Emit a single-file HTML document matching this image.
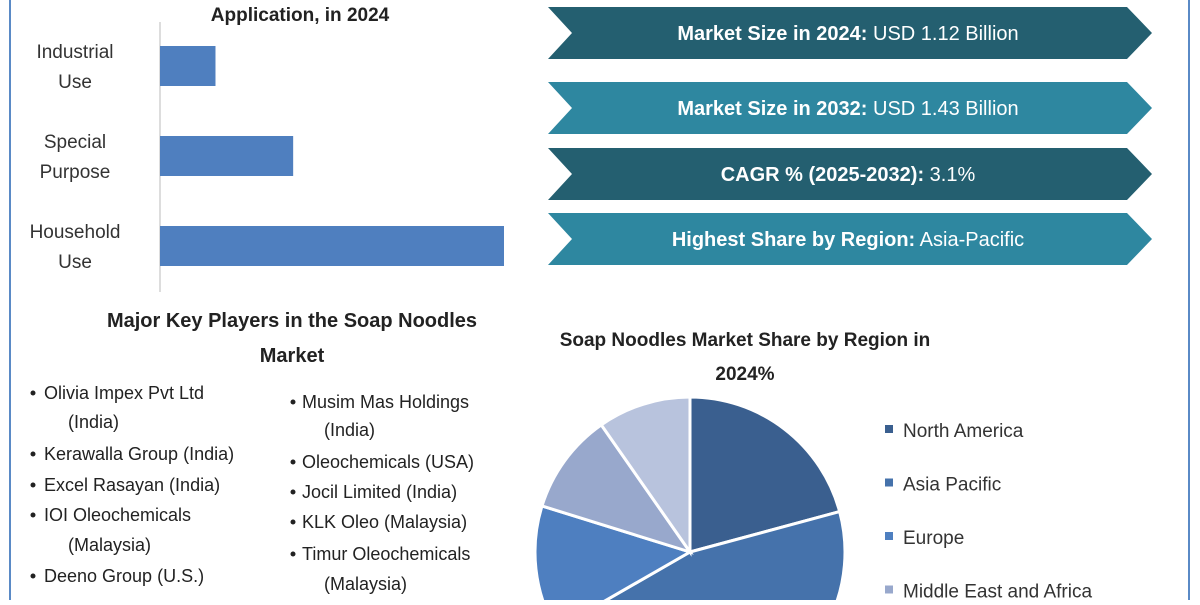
<!DOCTYPE html>
<html><head><meta charset="utf-8"><style>
body{margin:0;width:1200px;height:600px;background:#fff;overflow:hidden;font-family:"Liberation Sans",sans-serif}
svg text{font-family:"Liberation Sans",sans-serif}
</style></head><body>
<svg width="1200" height="600" viewBox="0 0 1200 600">
<line x1="10" y1="0" x2="10" y2="600" stroke="#5a8ac6" stroke-width="2"/>
<line x1="1189" y1="0" x2="1189" y2="600" stroke="#5a8ac6" stroke-width="2"/>
<text x="300" y="21" text-anchor="middle" font-size="19" font-weight="bold" fill="#222">Application, in 2024</text>
<g id="bars"></g>
<g id="arrows"></g>
<text x="292" y="327" text-anchor="middle" font-size="20" font-weight="bold" fill="#222">Major Key Players in the Soap Noodles</text>
<text x="292" y="362" text-anchor="middle" font-size="20" font-weight="bold" fill="#222">Market</text>
<g id="players" font-size="18" fill="#222"></g>
<text x="745" y="346" text-anchor="middle" font-size="19" font-weight="bold" fill="#222">Soap Noodles Market Share by Region in</text>
<text x="745" y="380" text-anchor="middle" font-size="19" font-weight="bold" fill="#222">2024%</text>
<g id="pie"></g>
<g id="legend"></g>
</svg>
<script>
const NS="http://www.w3.org/2000/svg";
function mk(t,a,p){const e=document.createElementNS(NS,t);for(const k in a)e.setAttribute(k,a[k]);p.appendChild(e);return e;}
// Bar chart data
const barCategories=[["Industrial","Use"],["Special","Purpose"],["Household","Use"]];
const barValues=[10,24,62];
const barMax=62;
const bx0=160,bx1=504,by0=22,band=90;
const xs=v=>bx0+(v-0)/barMax*(bx1-bx0);
const bars=document.getElementById('bars');
const ax=mk('line',{x1:bx0,y1:by0,x2:bx0,y2:by0+band*3,stroke:'#bbb'},bars);


barValues.forEach((v,i)=>{
  const r=mk('rect',{x:bx0,y:by0+band*i+24,width:xs(v)-bx0,height:40,fill:'#4f7fbf'},bars);
  
  
  barCategories[i].forEach((l,j)=>{
    const t=mk('text',{x:75,y:by0+band*i+36+j*30,'text-anchor':'middle','font-size':19,fill:'#333'},bars);
    t.textContent=l;
    
    
  });
});
// Stat arrows
const stats=[["Market Size in 2024:"," USD 1.12 Billion"],["Market Size in 2032:"," USD 1.43 Billion"],["CAGR % (2025-2032):"," 3.1%"],["Highest Share by Region:"," Asia-Pacific"]];
const statY=[7,82,148,213];
const arrows=document.getElementById('arrows');
stats.forEach((s,i)=>{
  const y=statY[i],h=52;
  const p=mk('polygon',{points:`548,${y} 1127,${y} 1152,${y+h/2} 1127,${y+h} 548,${y+h} 572,${y+h/2}`,fill:i%2?'#2e87a0':'#245f70'},arrows);
  
  
  const t=mk('text',{x:848,y:y+h/2+7,'text-anchor':'middle','font-size':20,fill:'#fff'},arrows);
  
  
  const b=mk('tspan',{'font-weight':'bold'},t);b.textContent=s[0];
  const n=mk('tspan',{},t);n.textContent=s[1];
});
// Players
const col1=[["Olivia Impex Pvt Ltd",399,1],["(India)",428,0],["Kerawalla Group (India)",460,1],["Excel Rasayan (India)",491,1],["IOI Oleochemicals",521,1],["(Malaysia)",551,0],["Deeno Group (U.S.)",582,1]];
const col2=[["Musim Mas Holdings",408,1],["(India)",436,0],["Oleochemicals (USA)",468,1],["Jocil Limited (India)",498,1],["KLK Oleo (Malaysia)",528,1],["Timur Oleochemicals",560,1],["(Malaysia)",590,0]];
const pl=document.getElementById('players');
[[col1,30,44,68],[col2,290,302,324]].forEach(([c,bx,tx,ix])=>c.forEach(([s,y,b])=>{
  if(b){const d=mk('circle',{cx:bx+3,cy:y-6,r:2.5,fill:'#222'},pl);}
  const t=mk('text',{x:b?tx:ix,y:y},pl);t.textContent=s;
  
  
}));
// Pie data
const regions=["North America","Asia Pacific","Europe","Middle East and Africa","Latin America"];
const shares=[20.8,45.9,13.1,10.5,9.7];
const pieColors=['#3a5f8f','#4572ab','#4e7fc0','#98a8cc','#b8c3dd'];
const cx=690,cy=552,R=155;
const pie=document.getElementById('pie');
const tot=shares.reduce((a,b)=>a+b,0);
let a0=0;
shares.forEach((v,i)=>{
  const a1=a0+v/tot*2*Math.PI;
  const p=(a)=>[cx+R*Math.sin(a),cy-R*Math.cos(a)];
  const [x0,y0]=p(a0),[x1,y1]=p(a1);
  const s=mk('path',{d:`M${cx},${cy}L${x0},${y0}A${R},${R} 0 ${a1-a0>Math.PI?1:0} 1 ${x1},${y1}Z`,fill:pieColors[i],stroke:'#fff','stroke-width':3},pie);
  
  
  a0=a1;
});
const lg=document.getElementById('legend');
regions.forEach((r,i)=>{
  const y=437+i*53.5;
  const sq=mk('rect',{x:885,y:y-12,width:8,height:8,fill:pieColors[i]},lg);
  
  
  const t=mk('text',{x:903,y:y,'font-size':19,fill:'#333'},lg);t.textContent=r;
  
  
});
</script>
</body></html>
